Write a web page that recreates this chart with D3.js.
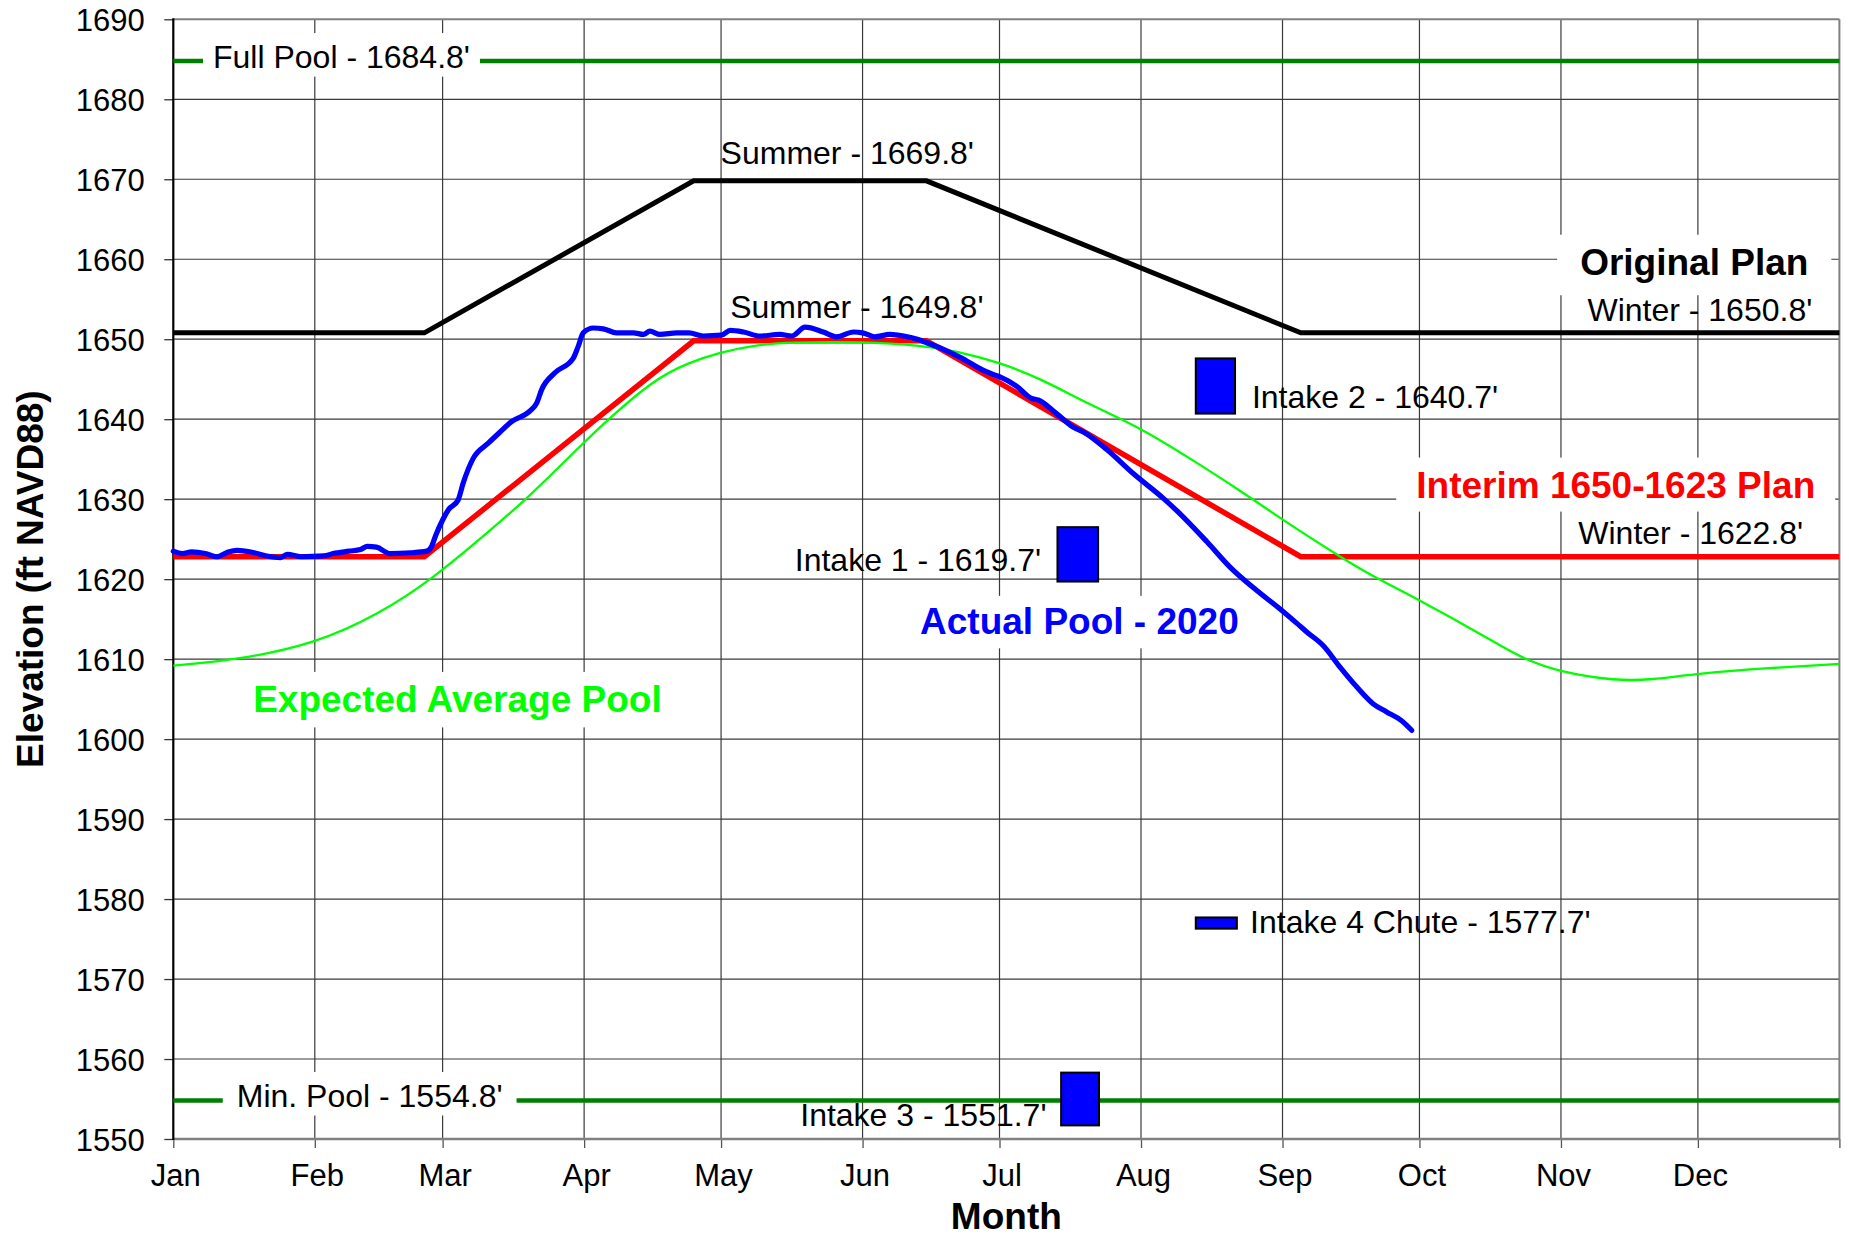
<!DOCTYPE html>
<html>
<head>
<meta charset="utf-8">
<script src="https://cdn.jsdelivr.net/npm/d3@7"></script>
<style>
  body { margin: 0; background: #fff; }
  svg { display: block; }
  text { font-family: "Liberation Sans", Arial, sans-serif; }
</style>
</head>
<body>
<svg id="chart" width="1849" height="1238"></svg>
<script>
// ---------------- DATA ----------------
const monthLabels = ["Jan","Feb","Mar","Apr","May","Jun","Jul","Aug","Sep","Oct","Nov","Dec"];
const yTickValues = [1550,1560,1570,1580,1590,1600,1610,1620,1630,1640,1650,1660,1670,1680,1690];

const fullPool = 1684.8;
const minPool = 1554.8;

// plan break points (day of year)
const planDays = [0, 55, 114, 165, 247, 365];
const originalPlanElev = [1650.8, 1650.8, 1669.8, 1669.8, 1650.8, 1650.8];
const interimPlanElev  = [1622.8, 1622.8, 1649.8, 1649.8, 1622.8, 1622.8];

// Expected average pool (day of year, elevation)
const expectedDays = [0,14,31,45,57,69.4,77.4,89.8,95.3,105.2,112.5,120,127.8,135,151,164.3,171.6,181,189.9,200.8,212,222.7,233.7,243,255.6,262.9,273,287.5,295.3,304.3,316,323.7,334,349.5,365];
const expectedElev = [1609.2,1609.9,1611.9,1615.6,1620.1,1626.1,1630.0,1637.0,1640.0,1644.9,1647.0,1648.4,1649.3,1649.6,1649.7,1649.2,1648.5,1647.1,1645.1,1641.8,1638.9,1635.1,1631.1,1627.4,1622.8,1620.3,1617.4,1612.8,1610.1,1608.3,1607.3,1607.4,1608.2,1608.9,1609.4];

// Actual pool 2020 (day of year, elevation)
const actualDays = [0,2,4,7,9.5,12,14,17,20.5,23.5,25,28,33,35,38.5,41,42.5,44.5,47.5,52,55.5,56.5,57.5,59,60.3,62.4,63.5,65.7,69,71.6,74.1,78.1,79.6,80.7,83.6,87.6,88.7,89.8,92,94.2,97.1,100.8,103,104.4,106.6,110.3,113,116.1,120.1,122,124.9,128.5,132.9,135.5,138.4,142.4,145.3,149,151,153.7,157,160,163,165.8,168.5,172.5,177.5,179.6,181.1,184.8,188,189.5,193.5,197.2,199.4,204.5,210.3,216.9,220.5,226.4,231.5,237.3,242.4,246.1,248.3,251.9,255.6,259.3,262.9,265.8,269.1,271.3];
const actualElev = [1623.5,1623.2,1623.4,1623.2,1622.8,1623.4,1623.6,1623.4,1622.9,1622.7,1623.1,1622.8,1622.9,1623.2,1623.5,1623.7,1624.1,1624.0,1623.2,1623.3,1623.5,1624.0,1625.5,1627.4,1628.7,1629.9,1632.0,1635.1,1637.0,1638.4,1639.7,1641.0,1642.0,1643.7,1645.8,1647.6,1649.1,1650.8,1651.4,1651.3,1650.8,1650.8,1650.6,1651.0,1650.6,1650.8,1650.8,1650.4,1650.5,1651.1,1650.9,1650.4,1650.6,1650.4,1651.5,1650.9,1650.3,1650.9,1650.8,1650.3,1650.6,1650.4,1650.0,1649.4,1648.8,1647.7,1646.1,1645.6,1645.3,1644.1,1642.6,1642.4,1640.7,1639.0,1638.4,1636.2,1633.2,1630.1,1628.2,1624.7,1621.5,1618.6,1616.3,1614.5,1613.4,1611.7,1609.0,1606.5,1604.4,1603.4,1602.3,1601.1];

// Intakes
const intakeNames     = ["Intake 1","Intake 2","Intake 3","Intake 4 Chute"];
const intakeStartDay  = [193.7, 224.0, 194.5, 224.0];
const intakeEndDay    = [202.6, 232.6, 202.8, 233.0];
const intakeBottom    = [1619.7, 1640.7, 1551.7, 1576.3];
const intakeTop       = [1626.5, 1647.6, 1558.3, 1577.7];

// Annotation texts
const labelTexts = [
  "Full Pool - 1684.8'", "Min. Pool - 1554.8'",
  "Summer - 1669.8'", "Summer - 1649.8'",
  "Original Plan", "Winter - 1650.8'",
  "Interim 1650-1623 Plan", "Winter - 1622.8'",
  "Intake 2 - 1640.7'", "Intake 1 - 1619.7'",
  "Actual Pool - 2020", "Expected Average Pool",
  "Intake 4 Chute - 1577.7'", "Intake 3 - 1551.7'"
];

// ---------------- LAYOUT ----------------
const W = 1849, H = 1238;
const plotLeft = 173.3, plotRight = 1839.4, plotTop = 19.3, plotBottom = 1139;

const svg = d3.select("#chart");
svg.append("rect").attr("width", W).attr("height", H).attr("fill", "#fff");

const yearStart = Date.UTC(2021, 0, 1);
const dayToDate = d => new Date(yearStart + d * 864e5);

const x = d3.scaleUtc().domain([dayToDate(0), dayToDate(365)]).range([plotLeft, plotRight]);
const y = d3.scaleLinear().domain([1550, 1690]).range([plotBottom, plotTop]);

const monthTicks = d3.utcMonth.range(dayToDate(0), dayToDate(366)); // 13 ticks

// Gridlines
const grid = svg.append("g").attr("class", "grid");
grid.selectAll("line.v").data(monthTicks.slice(1, 12)).join("line")
  .attr("x1", d => x(d)).attr("x2", d => x(d))
  .attr("y1", plotTop).attr("y2", plotBottom)
  .attr("stroke", "#3a3a3a").attr("stroke-width", 1.2);
grid.selectAll("line.h").data(yTickValues.slice(1, -1)).join("line")
  .attr("x1", plotLeft).attr("x2", plotRight)
  .attr("y1", d => y(d)).attr("y2", d => y(d))
  .attr("stroke", "#3a3a3a").attr("stroke-width", 1.2);

// Borders
svg.append("line").attr("x1", plotLeft).attr("x2", plotRight).attr("y1", y(1690)).attr("y2", y(1690))
  .attr("stroke", "#808080").attr("stroke-width", 2);
svg.append("line").attr("x1", plotRight).attr("x2", plotRight).attr("y1", plotTop).attr("y2", plotBottom)
  .attr("stroke", "#808080").attr("stroke-width", 2);

// Axes
const xAxis = d3.axisBottom(x).tickValues(monthTicks).tickSize(9)
  .tickFormat((d, i) => i < 12 ? monthLabels[i] : "");
const gx = svg.append("g").attr("transform", `translate(0,${plotBottom})`).call(xAxis);
gx.select(".domain").remove();
gx.selectAll(".tick line").attr("stroke", "#555").attr("stroke-width", 1.3);
gx.selectAll(".tick text").attr("y", 47).attr("dy", null).attr("dx", 2)
  .attr("font-size", 31).attr("fill", "#000")
  .style("font-family", '"Liberation Sans", Arial, sans-serif');

const yAxis = d3.axisLeft(y).tickValues(yTickValues).tickSize(9).tickPadding(19.5).tickFormat(d3.format("d"));
const gy = svg.append("g").attr("transform", `translate(${plotLeft},0)`).call(yAxis);
gy.select(".domain").remove();
gy.selectAll(".tick line").attr("stroke", "#333").attr("stroke-width", 1.3);
gy.selectAll(".tick text").attr("dy", "0.36em").attr("font-size", 31).attr("fill", "#000")
  .style("font-family", '"Liberation Sans", Arial, sans-serif');

svg.append("line").attr("x1", plotLeft).attr("x2", plotRight).attr("y1", plotBottom).attr("y2", plotBottom)
  .attr("stroke", "#808080").attr("stroke-width", 2.5);
svg.append("line").attr("x1", plotLeft).attr("x2", plotLeft).attr("y1", plotTop - 1).attr("y2", plotBottom + 1)
  .attr("stroke", "#000").attr("stroke-width", 2.2);

// Axis titles
svg.append("text").attr("transform", `translate(43,${(plotTop + plotBottom) / 2}) rotate(-90)`)
  .attr("text-anchor", "middle").attr("font-size", 37).attr("font-weight", "bold")
  .text("Elevation (ft NAVD88)");
svg.append("text").attr("x", (plotLeft + plotRight) / 2).attr("y", 1229)
  .attr("text-anchor", "middle").attr("font-size", 37).attr("font-weight", "bold")
  .text("Month");

// ---------------- SERIES ----------------
const lineGen = d3.line().x(d => x(dayToDate(d[0]))).y(d => y(d[1]));
const zip = (a, b) => a.map((v, i) => [v, b[i]]);

const series = svg.append("g");
// pool limits
[fullPool, minPool].forEach(v => {
  series.append("path").attr("d", lineGen([[0, v], [365, v]]))
    .attr("fill", "none").attr("stroke", "#008000").attr("stroke-width", 4.5);
});
// original plan
series.append("path").attr("d", lineGen(zip(planDays, originalPlanElev)))
  .attr("fill", "none").attr("stroke", "#000").attr("stroke-width", 5).attr("stroke-linejoin", "miter");
// interim plan
series.append("path").attr("d", lineGen(zip(planDays, interimPlanElev)))
  .attr("fill", "none").attr("stroke", "#ff0000").attr("stroke-width", 5.5).attr("stroke-linejoin", "miter");
// expected average pool
series.append("path").attr("d", lineGen.curve(d3.curveBasis)(zip(expectedDays, expectedElev)))
  .attr("fill", "none").attr("stroke", "#00ff00").attr("stroke-width", 2.3);
// actual pool
series.append("path").attr("d", lineGen.curve(d3.curveMonotoneX)(zip(actualDays, actualElev)))
  .attr("fill", "none").attr("stroke", "#0000ff").attr("stroke-width", 5.2)
  .attr("stroke-linejoin", "round").attr("stroke-linecap", "round");

// intakes
series.selectAll("rect.intake").data(intakeNames).join("rect")
  .attr("class", "intake")
  .attr("x", (d, i) => x(dayToDate(intakeStartDay[i])))
  .attr("y", (d, i) => y(intakeTop[i]))
  .attr("width", (d, i) => x(dayToDate(intakeEndDay[i])) - x(dayToDate(intakeStartDay[i])))
  .attr("height", (d, i) => y(intakeBottom[i]) - y(intakeTop[i]))
  .attr("fill", "#0000ff").attr("stroke", "#000").attr("stroke-width", 2);

// ---------------- ANNOTATIONS ----------------
// anchors in data coordinates (day, elevation of baseline); box = [padX, padTop, padBottom]
const annLayout = [
  {day: 8.7,   elev: 1683.9, anchor: "start", size: 32, bold: false, color: "#000", box: [10, 6, 1.5]},
  {day: 13.9,  elev: 1554.0, anchor: "start", size: 32, bold: false, color: "#000", box: [14, 6, 1.5]},
  {day: 119.9, elev: 1671.9, anchor: "start", size: 32, bold: false, color: "#000"},
  {day: 122.0, elev: 1652.6, anchor: "start", size: 32, bold: false, color: "#000"},
  {day: 308.2, elev: 1658.0, anchor: "start", size: 37, bold: true,  color: "#000", box: [23, 7.5, 12]},
  {day: 309.8, elev: 1652.3, anchor: "start", size: 32, bold: false, color: "#000"},
  {day: 272.3, elev: 1630.2, anchor: "start", size: 37, bold: true,  color: "#ff0000", box: [20, 7, 6]},
  {day: 307.8, elev: 1624.4, anchor: "start", size: 32, bold: false, color: "#000"},
  {day: 236.3, elev: 1641.4, anchor: "start", size: 32, bold: false, color: "#000"},
  {day: 190.1, elev: 1621.0, anchor: "end",   size: 32, bold: false, color: "#000"},
  {day: 163.6, elev: 1613.1, anchor: "start", size: 37, bold: true,  color: "#0000ff", box: [12, 5.5, 6]},
  {day: 17.5,  elev: 1603.4, anchor: "start", size: 37, bold: true,  color: "#00ff00", box: [18, 7, 7.5]},
  {day: 235.9, elev: 1575.7, anchor: "start", size: 32, bold: false, color: "#000"},
  {day: 191.3, elev: 1551.6, anchor: "end",   size: 32, bold: false, color: "#000"}
];

const boxG = svg.append("g");
const textG = svg.append("g");
labelTexts.forEach((t, i) => {
  const L = annLayout[i];
  const txt = textG.append("text")
    .attr("x", x(dayToDate(L.day))).attr("y", y(L.elev))
    .attr("text-anchor", L.anchor).attr("font-size", L.size)
    .attr("font-weight", L.bold ? "bold" : "normal")
    .attr("fill", L.color).text(t);
  if (L.box) {
    const b = txt.node().getBBox();
    boxG.append("rect")
      .attr("x", b.x - L.box[0]).attr("y", b.y - L.box[1])
      .attr("width", b.width + 2 * L.box[0]).attr("height", b.height + L.box[1] + L.box[2])
      .attr("fill", "#fff");
  }
});
</script>
</body>
</html>
